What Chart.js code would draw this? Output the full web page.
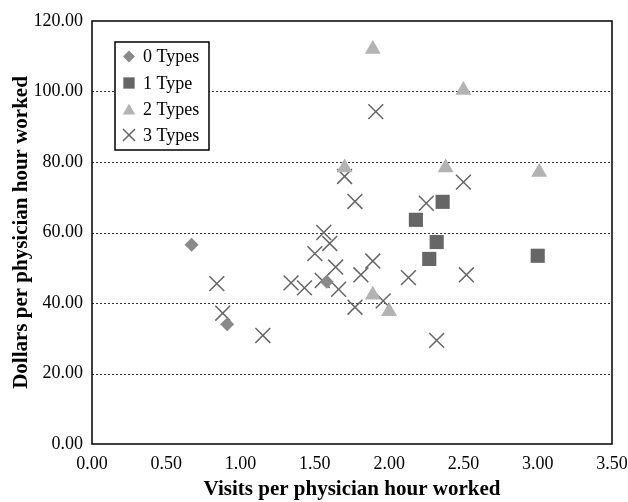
<!DOCTYPE html>
<html>
<head>
<meta charset="utf-8">
<script src="https://cdn.jsdelivr.net/npm/chart.js@4.4.1/dist/chart.umd.min.js"></script>
<style>
  html, body { margin: 0; padding: 0; background: #ffffff; }
  #wrap { width: 628px; height: 502px; }
</style>
</head>
<body>
<div id="wrap"><canvas id="c" width="628" height="502"></canvas></div>
<script>
// ---- Data ----
const seriesNames = ['0 Types', '1 Type', '2 Types', '3 Types'];

const zeroTypesX = [0.67, 0.91, 1.58];
const zeroTypesY = [56.5, 34.0, 46.0];

const oneTypeX = [2.18, 2.36, 2.32, 2.27, 3.00];
const oneTypeY = [63.6, 68.7, 57.3, 52.5, 53.4];

const twoTypesX = [1.89, 2.50, 1.70, 2.38, 3.01, 1.89, 2.00];
const twoTypesY = [112.0, 100.4, 78.4, 78.4, 77.1, 42.3, 37.6];

const threeTypesX = [1.91, 1.70, 1.77, 2.50, 2.25, 2.13, 2.52, 2.32, 1.89, 1.81, 1.96, 1.77,
                     1.64, 1.66, 1.60, 1.56, 1.50, 1.55, 1.34, 1.43, 0.84, 0.88, 1.15];
const threeTypesY = [94.3, 75.9, 68.8, 74.3, 68.3, 47.2, 48.0, 29.4, 51.9, 48.0, 40.6, 38.8,
                     50.2, 43.9, 56.9, 60.0, 54.0, 46.4, 45.7, 44.3, 45.5, 37.1, 30.8];

const xTicks = [0, 0.5, 1, 1.5, 2, 2.5, 3, 3.5];
const yTicks = [0, 20, 40, 60, 80, 100, 120];
const yGridValues = [20, 40, 60, 80, 100];

const xTitle = 'Visits per physician hour worked';
const yTitle = 'Dollars per physician hour worked';

function pairs(xs, ys) { return xs.map((x, i) => ({ x: x, y: ys[i] })); }

const FONT = "'Liberation Serif', 'Times New Roman', serif";

const styles = [
  { pointStyle: 'rectRot',  radius: 7,   bg: '#8a8a8a', border: '#8a8a8a', bw: 0,   lr: 6.0 },
  { pointStyle: 'rect',     radius: 10,  bg: '#666666', border: '#666666', bw: 0,   lr: 8.0 },
  { pointStyle: 'triangle', radius: 9.2, bg: '#b3b3b3', border: '#b3b3b3', bw: 0,   lr: 7.2 },
  { pointStyle: 'crossRot', radius: 10.5, bg: 'rgba(0,0,0,0)', border: '#666666', bw: 1.5, lr: 8.5 }
];

const dataSets = [
  pairs(zeroTypesX, zeroTypesY),
  pairs(oneTypeX, oneTypeY),
  pairs(twoTypesX, twoTypesY),
  pairs(threeTypesX, threeTypesY)
];

const datasets = dataSets.map((d, i) => ({
  label: seriesNames[i],
  data: d,
  pointStyle: styles[i].pointStyle,
  pointRadius: styles[i].radius,
  pointHoverRadius: styles[i].radius,
  backgroundColor: styles[i].bg,
  borderColor: styles[i].border,
  pointBorderWidth: styles[i].bw,
  borderWidth: styles[i].bw
}));

// dotted horizontal grid lines through the y scale
const gridPlugin = {
  id: 'dottedGrid',
  beforeDatasetsDraw(chart) {
    const ctx = chart.ctx;
    const a = chart.chartArea;
    const ys = chart.scales.y;
    ctx.save();
    ctx.strokeStyle = '#333333';
    ctx.lineWidth = 1;
    ctx.setLineDash([2, 2]);
    yGridValues.forEach(v => {
      const py = Math.round(ys.getPixelForValue(v)) + 0.5;
      ctx.beginPath();
      ctx.moveTo(a.left, py);
      ctx.lineTo(a.right, py);
      ctx.stroke();
    });
    ctx.restore();
  }
};

// Plot-area frame + boxed legend inside the plot area
const framePlugin = {
  id: 'frameAndLegend',
  afterDraw(chart) {
    const ctx = chart.ctx;
    const a = chart.chartArea;
    ctx.save();
    ctx.strokeStyle = '#000000';
    ctx.lineWidth = 1.5;
    ctx.strokeRect(a.left, a.top, a.right - a.left, a.bottom - a.top);

    // legend box
    const bx = 115, by = 42, bw = 94, bh = 108;
    ctx.fillStyle = '#ffffff';
    ctx.fillRect(bx, by, bw, bh);
    ctx.lineWidth = 1.5;
    ctx.strokeStyle = '#000000';
    ctx.strokeRect(bx, by, bw, bh);
    const rowY = [56.5, 83, 109, 135];
    ctx.font = '18px ' + FONT;
    ctx.textBaseline = 'middle';
    ctx.textAlign = 'left';
    seriesNames.forEach((name, i) => {
      const s = styles[i];
      const py = rowY[i];
      ctx.fillStyle = s.bg;
      ctx.strokeStyle = s.border;
      ctx.lineWidth = s.bw || 1;
      Chart.helpers.drawPoint(ctx, { pointStyle: s.pointStyle, radius: s.lr, borderWidth: s.bw || 0, rotation: 0 }, 129, py + (s.pointStyle === 'triangle' ? 2 : 0));
      ctx.fillStyle = '#000000';
      ctx.fillText(name, 143, py + 1);
    });
    ctx.restore();
  }
};

new Chart(document.getElementById('c'), {
  type: 'scatter',
  data: { datasets: datasets },
  options: {
    responsive: false,
    animation: false,
    devicePixelRatio: 1,
    layout: { padding: { left: 0, right: 16, top: 21, bottom: 0 } },
    plugins: {
      legend: { display: false },
      tooltip: { enabled: false }
    },
    scales: {
      x: {
        type: 'linear',
        min: 0, max: 3.5,
        afterBuildTicks(scale) { scale.ticks = xTicks.map(v => ({ value: v })); },
        afterFit(scale) { scale.height = 58; scale.paddingRight = 0; scale.paddingLeft = 0; },
        grid: { display: false, drawTicks: false },
        border: { display: false },
        ticks: {
          padding: 9,
          color: '#000000',
          font: { family: FONT, size: 18 },
          maxRotation: 0,
          callback: v => Number(v).toFixed(2)
        },
        title: {
          display: true,
          text: xTitle,
          color: '#000000',
          font: { family: FONT, size: 21, weight: 'bold' },
          padding: { top: 0, bottom: 0 }
        }
      },
      y: {
        type: 'linear',
        min: 0, max: 120,
        afterBuildTicks(scale) { scale.ticks = yTicks.map(v => ({ value: v })); },
        afterFit(scale) { scale.width = 92; scale.paddingTop = 0; scale.paddingBottom = 0; },
        grid: { display: false, drawTicks: false },
        border: { display: false },
        ticks: {
          padding: 9,
          color: '#000000',
          font: { family: FONT, size: 18 },
          callback: v => Number(v).toFixed(2)
        },
        title: {
          display: true,
          text: yTitle,
          color: '#000000',
          font: { family: FONT, size: 21, weight: 'bold' },
          padding: { top: 9, bottom: 0 }
        }
      }
    }
  },
  plugins: [gridPlugin, framePlugin]
});
</script>
</body>
</html>
